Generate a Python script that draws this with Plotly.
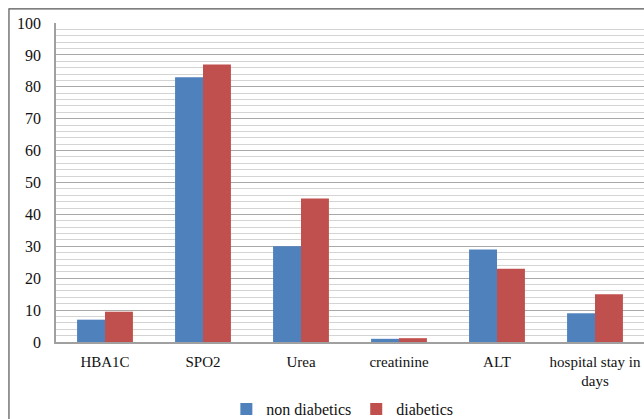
import plotly.graph_objects as go

categories = ["HBA1C", "SPO2", "Urea", "creatinine", "ALT", "hospital stay in<br>days"]
non_diabetics = [7, 83, 30, 1, 29, 9]
diabetics = [9.5, 87, 45, 1.2, 23, 15]

font_family = "Liberation Serif, DejaVu Serif, serif"

fig = go.Figure()
fig.add_trace(go.Bar(name="non diabetics", x=categories, y=non_diabetics,
                     marker=dict(color="#4F81BD", line=dict(width=0))))
fig.add_trace(go.Bar(name="diabetics", x=categories, y=diabetics,
                     marker=dict(color="#C0504D", line=dict(width=0))))

fig.update_layout(
    width=644, height=419,
    margin=dict(l=56, r=0, t=23, b=77, autoexpand=False),
    paper_bgcolor="white", plot_bgcolor="white",
    barmode="group", bargap=0.43, bargroupgap=0,
    font=dict(family=font_family, size=15, color="#111111"),
    legend=dict(orientation="h", x=0.487, xanchor="center", y=-0.21, yanchor="middle",
                font=dict(size=16), itemwidth=30, traceorder="normal",
                bgcolor="rgba(0,0,0,0)"),
    showlegend=True,
)
fig.update_xaxes(showline=True, linecolor="#A0A0A0", linewidth=1.5, ticks="", showgrid=False,
                 tickfont=dict(size=15), ticklabelstandoff=5, automargin=False)
fig.update_yaxes(range=[0, 100], dtick=10, showline=True, linecolor="#A0A0A0", linewidth=1.5,
                 gridcolor="#A8A8A8", gridwidth=1.2, ticks="", tickfont=dict(size=16),
                 ticklabelstandoff=10, zeroline=False, automargin=False,
                 minor=dict(dtick=2, showgrid=True, gridcolor="#D4D4D4", gridwidth=1))
fig.add_shape(type="rect", xref="paper", yref="paper", x0=-0.08, y0=-0.3, x1=1.05, y1=1.044,
              line=dict(color="#555555", width=1.2), layer="above")
fig.write_html("out.html", config={"displayModeBar": False},
               post_script="document.body.style.margin='0';document.body.style.overflow='hidden';")
